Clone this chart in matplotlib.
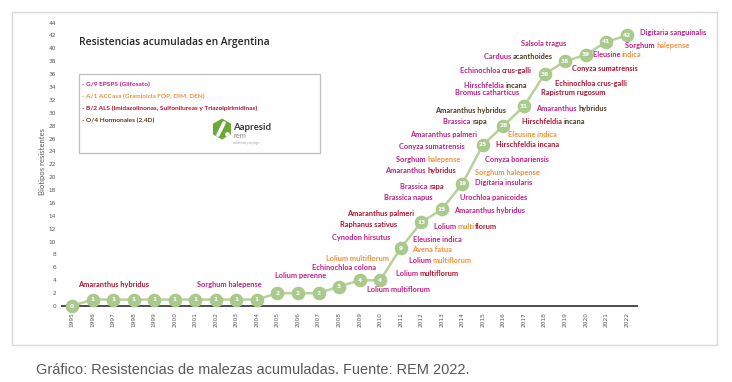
import matplotlib
matplotlib.use('Agg')
import matplotlib.pyplot as plt
from matplotlib.transforms import offset_copy, IdentityTransform
from matplotlib.patches import Rectangle, RegularPolygon
from matplotlib.lines import Line2D

# ---------------- data ----------------
years = list(range(1995, 2023))
biotipos = [0, 1, 1, 1, 1, 1, 1, 1, 1, 1, 2, 2, 2, 3, 4, 4,
            9, 13, 15, 19, 25, 28, 31, 36, 38, 39, 41, 42]
yticks = list(range(0, 45, 2))

title = 'Resistencias acumuladas en Argentina'
ylabel = 'Biotipos resistentes'
caption = 'Gráfico: Resistencias de malezas acumuladas. Fuente: REM 2022.'

MAG = '#C21D86'
RED = '#B3122E'
ORA = '#F0913A'
BRN = '#4F3B22'

legend_items = [
    ('- G/9 EPSPS (Glifosato)', MAG),
    ('- A/1 ACCasa (Graminicia FOP, DIM, DEN)', ORA),
    ('- B/2 ALS (Imidazolinonas, Sulfonilureas y Triazolpirimidinas)', RED),
    ('- O/4 Hormonales (2,4D)', BRN),
]

# (x, y, alignment, [(text segment, colour), ...])
labels = [
    (1997.00, 3.4, 'center', [('Amaranthus hybridus', RED)]),
    (2002.66, 3.4, 'center', [('Sorghum halepense', MAG)]),
    (2007.35, 4.8, 'right', [('Lolium perenne', MAG)]),
    (2009.79, 5.9, 'right', [('Echinochloa colona', MAG)]),
    (2010.43, 7.3, 'right', [('Lolium multiflorum', ORA)]),
    (2010.52, 10.7, 'right', [('Cynodon hirsutus', MAG)]),
    (2010.82, 12.6, 'right', [('Raphanus sativus', RED)]),
    (2011.64, 14.4, 'right', [('Amaranthus palmeri', RED)]),
    (2009.36, 2.6, 'left', [('Lolium multiflorum', MAG)]),
    (2010.77, 5.1, 'left', [('Lolium ', MAG), ('multiflorum', RED)]),
    (2011.40, 7.0, 'left', [('Lolium ', MAG), ('multiflorum', ORA)]),
    (2011.55, 8.7, 'left', [('Avena fatua', ORA)]),
    (2011.59, 10.4, 'left', [('Eleusine indica', MAG)]),
    (2012.62, 12.4, 'left', [('Lolium ', MAG), ('multi', ORA), ('florum', RED)]),
    (2013.59, 14.9, 'left', [('Amaranthus hybridus', MAG)]),
    (2013.88, 16.9, 'left', [('Urochloa panicoides', MAG)]),
    (2014.61, 19.1, 'left', [('Digitaria insularis', MAG)]),
    (2013.10, 18.6, 'right', [('Brassica ', MAG), ('rapa', RED)]),
    (2012.57, 16.9, 'right', [('Brassica napus', MAG)]),
    (2013.69, 21.0, 'right', [('Amaranthus ', MAG), ('hybridus', RED)]),
    (2013.93, 22.7, 'right', [('Sorghum ', MAG), ('halepense', ORA)]),
    (2014.12, 24.7, 'right', [('Conyza sumatrensis', MAG)]),
    (2014.71, 26.6, 'right', [('Amaranthus palmeri', MAG)]),
    (2015.19, 28.6, 'right', [('Brassica ', MAG), ('rapa', BRN)]),
    (2016.12, 30.4, 'right', [('Amaranthus hybridus', BRN)]),
    (2014.61, 20.8, 'left', [('Sorghum halepense', ORA)]),
    (2015.10, 22.7, 'left', [('Conyza bonariensis', MAG)]),
    (2015.63, 25.0, 'left', [('Hirschfeldia incana', RED)]),
    (2016.22, 26.7, 'left', [('Eleusine indica', ORA)]),
    (2016.90, 28.6, 'left', [('Hirschfeldia ', RED), ('incana', BRN)]),
    (2017.58, 30.7, 'left', [('Amaranthus ', MAG), ('hybridus', BRN)]),
    (2017.82, 33.1, 'left', [('Rapistrum rugosum', RED)]),
    (2018.50, 34.6, 'left', [('Echinochloa crus-galli', RED)]),
    (2019.33, 36.8, 'left', [('Conyza sumatrensis', RED)]),
    (2020.35, 39.0, 'left', [('Eleusine ', MAG), ('indica', ORA)]),
    (2021.91, 40.5, 'left', [('Sorghum ', MAG), ('halepense', ORA)]),
    (2022.64, 42.4, 'left', [('Digitaria sanguinalis', MAG)]),
    (2016.75, 33.1, 'right', [('Bromus catharticus', MAG)]),
    (2017.14, 34.3, 'right', [('Hirschfeldia ', MAG), ('incana', BRN)]),
    (2017.38, 36.6, 'right', [('Echinochloa ', MAG), ('crus-galli', RED)]),
    (2018.41, 38.7, 'right', [('Carduus ', MAG), ('acanthoides', BRN)]),
    (2019.04, 40.8, 'right', [('Salsola tragus', MAG)]),
]

# ---------------- figure ----------------
W, H = 732, 382
fig = plt.figure(figsize=(W / 100, H / 100), dpi=100)
fig.patch.set_facecolor('white')
renderer = fig.canvas.get_renderer()

LABEL_FONT = dict(family=['Lato', 'DejaVu Sans'], fontweight='bold')


def text_width(s, size, **kw):
    t = fig.text(0, 0, s, fontsize=size, **kw)
    w = t.get_window_extent(renderer).width
    t.remove()
    return w


def fit_size(s, target_px, **kw):
    return 10.0 * target_px / text_width(s, 10.0, **kw)


def fy(py):
    return 1 - py / H


# outer frame
fig.add_artist(Rectangle((12 / W, fy(345)), (717 - 12) / W, (345 - 12) / H,
                         transform=fig.transFigure, fill=False,
                         ec='#D9D9D9', lw=1.0))

ax = fig.add_axes([61.7 / W, fy(306), (637 - 61.7) / W, (306 - 22.6) / H])
ax.set_xlim(1994.5, 2022.5)
ax.set_ylim(0, 44)
ax.set_facecolor('none')
for s in ['top', 'right', 'left']:
    ax.spines[s].set_visible(False)
ax.spines['bottom'].set_color('#3F3F3F')
ax.spines['bottom'].set_linewidth(1.3)
ax.spines['bottom'].set_zorder(1)

ax.set_yticks(yticks)
ax.set_yticklabels([str(v) for v in yticks])
ax.set_xticks(years)
ax.set_xticklabels([str(y) for y in years], rotation=90)
ax.tick_params(axis='y', length=0, labelsize=4.2, labelcolor='#595959', pad=4)
ax.tick_params(axis='x', length=0, labelsize=4.2, labelcolor='#595959', pad=4.5)

ax.plot(years, biotipos, color='#B5D29C', lw=1.8, zorder=2, clip_on=False,
        marker='o', ms=8.8, mfc='#AAC98C', mec='#AAC98C')
for x, v in zip(years, biotipos):
    ax.text(x, v, str(v), ha='center', va='center', color='white',
            fontsize=4.2, fontweight='bold', zorder=4, family='DejaVu Sans')

# labels
lab_fs = fit_size('Amaranthus hybridus', 71, **LABEL_FONT)
for x, y, align, segs in labels:
    full = ''.join(s for s, _ in segs)
    total = text_width(full, lab_fs, **LABEL_FONT)
    if align == 'right':
        base = -total
    elif align == 'center':
        base = -total / 2
    else:
        base = 0.0
    prefix = ''
    for s, c in segs:
        prefix += s
        dx = text_width(prefix, lab_fs, **LABEL_FONT) - text_width(s, lab_fs, **LABEL_FONT)
        if prefix == s:
            dx = 0.0
        tr = offset_copy(ax.transData, fig=fig, x=base + dx, y=0, units='dots')
        ax.text(x, y, s, color=c, fontsize=lab_fs, ha='left', va='center',
                transform=tr, zorder=5, **LABEL_FONT)

# y label
fig.text(42 / W, fy(162), ylabel, rotation=90, ha='center', va='center',
         color='#595959', fontsize=5.6, family=['Lato', 'DejaVu Sans'])

# title
TITLE_FONT = dict(family=['Open Sans', 'DejaVu Sans'], fontweight='semibold')
t_fs = fit_size(title, 190, **TITLE_FONT)
fig.text(79 / W, fy(42), title, ha='left', va='center', color='#262626',
         fontsize=t_fs, **TITLE_FONT)

# legend box
fig.add_artist(Rectangle((79 / W, fy(153)), (320 - 79) / W, (153 - 74) / H,
                         transform=fig.transFigure, fill=False,
                         ec='#BFBFBF', lw=0.9))
leg_fs = fit_size(legend_items[2][0], 175, **LABEL_FONT)
for i, (s, c) in enumerate(legend_items):
    fig.text(82 / W, fy(84 + 12 * i), s, ha='left', va='center', color=c,
             fontsize=leg_fs, **LABEL_FONT)

# logo
hx, hy = 222, 129
fig.add_artist(RegularPolygon((hx, H - hy), 6, radius=10.5,
                              transform=IdentityTransform(),
                              color='#6AA83A', lw=0))
fig.add_artist(Line2D([hx - 4, hx + 2], [H - hy - 6, H - hy + 6],
                      transform=IdentityTransform(), color='white', lw=2.6,
                      solid_capstyle='round'))
fig.add_artist(Line2D([hx + 4.5], [H - hy - 5], transform=IdentityTransform(),
                      marker='o', ms=2.4, color='white', lw=0))
a_fs = fit_size('Aapresid', 38, **LABEL_FONT)
fig.text(233 / W, fy(127), 'Aapresid', ha='left', va='center', color='#3A3A3A',
         fontsize=a_fs, **LABEL_FONT)
fig.text(233 / W, fy(136), 'rem', ha='left', va='center', color='#8A8A8A',
         fontsize=5.5, family=['Lato', 'DejaVu Sans'])
fig.text(233 / W, fy(142.5), 'red de manejo de plagas', ha='left', va='center',
         color='#9A9A9A', fontsize=1.8, family=['Lato', 'DejaVu Sans'])

# caption
CAP_FONT = dict(family=['Liberation Sans', 'DejaVu Sans'])
c_fs = fit_size(caption, 433, **CAP_FONT)
fig.text(36 / W, fy(370), caption, ha='left', va='center', color='#595959',
         fontsize=c_fs, **CAP_FONT)

fig.savefig('out.png', dpi=100, facecolor='white')
